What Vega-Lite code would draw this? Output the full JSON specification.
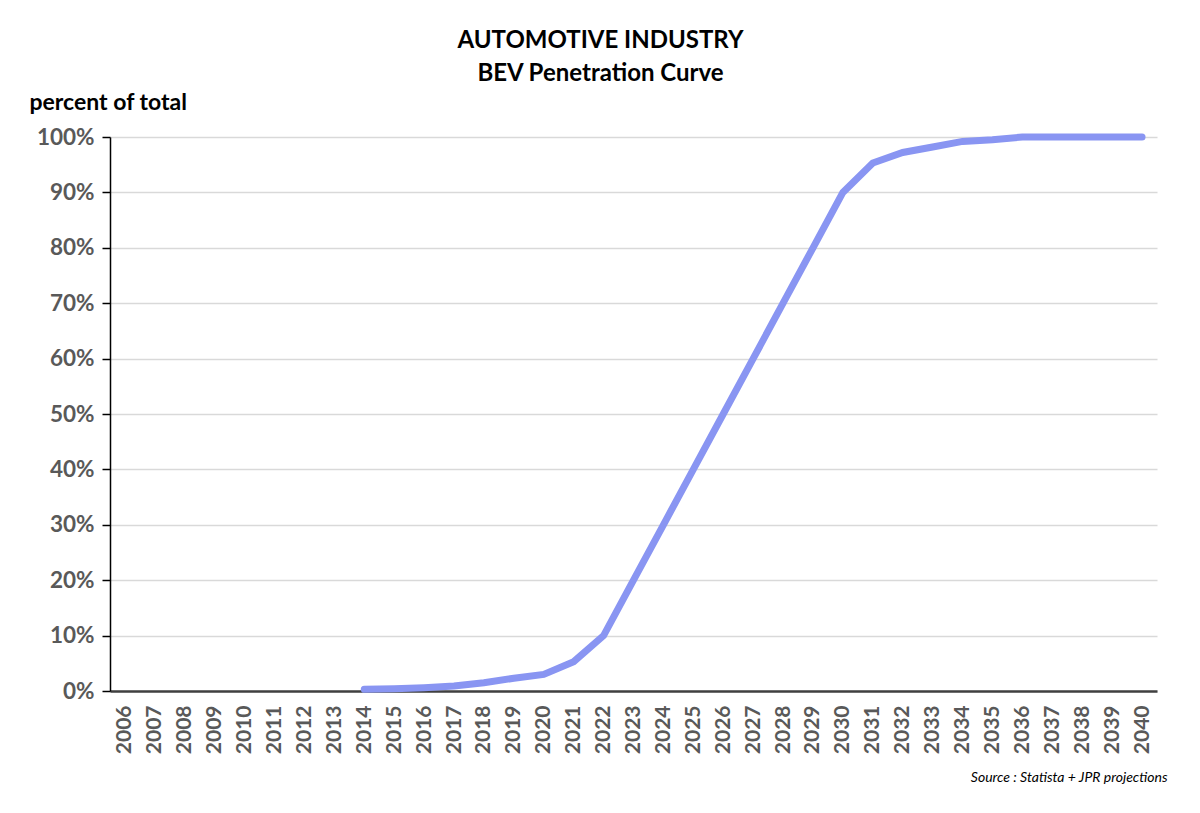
{
  "$schema": "https://vega.github.io/schema/vega-lite/v6.json",
  "width": 1047,
  "height": 554,
  "autosize": "none",
  "padding": {"left": 110, "top": 137, "right": 43, "bottom": 122},
  "background": "white",
  "title": {
    "text": ["AUTOMOTIVE INDUSTRY", "BEV Penetration Curve"],
    "font": "Lato",
    "fontSize": 24,
    "fontWeight": "bold",
    "color": "black",
    "lineHeight": 33,
    "anchor": "middle",
    "frame": "group",
    "dx": -33,
    "offset": 5
  },
  "data": {
    "values": [
      {"year": "2014", "pct": 0.3},
      {"year": "2015", "pct": 0.4},
      {"year": "2016", "pct": 0.6},
      {"year": "2017", "pct": 0.9},
      {"year": "2018", "pct": 1.5},
      {"year": "2019", "pct": 2.3},
      {"year": "2020", "pct": 3.0},
      {"year": "2021", "pct": 5.3},
      {"year": "2022", "pct": 10},
      {"year": "2023", "pct": 20},
      {"year": "2024", "pct": 30},
      {"year": "2025", "pct": 40},
      {"year": "2026", "pct": 50},
      {"year": "2027", "pct": 60},
      {"year": "2028", "pct": 70},
      {"year": "2029", "pct": 80},
      {"year": "2030", "pct": 90},
      {"year": "2031", "pct": 95.3},
      {"year": "2032", "pct": 97.2},
      {"year": "2033", "pct": 98.2},
      {"year": "2034", "pct": 99.2},
      {"year": "2035", "pct": 99.5},
      {"year": "2036", "pct": 100},
      {"year": "2037", "pct": 100},
      {"year": "2038", "pct": 100},
      {"year": "2039", "pct": 100},
      {"year": "2040", "pct": 100}
    ]
  },
  "mark": {"type": "line", "color": "#8995F2", "strokeWidth": 7, "strokeCap": "round", "strokeJoin": "miter"},
  "encoding": {
    "x": {
      "field": "year",
      "type": "ordinal",
      "scale": {
        "domain": ["2006","2007","2008","2009","2010","2011","2012","2013","2014","2015","2016","2017","2018","2019","2020","2021","2022","2023","2024","2025","2026","2027","2028","2029","2030","2031","2032","2033","2034","2035","2036","2037","2038","2039","2040"],
        "padding": 0.5
      },
      "axis": {
        "title": "Source : Statista + JPR projections",
        "titleFont": "Lato",
        "titleFontSize": 14,
        "titleFontStyle": "italic",
        "titleFontWeight": "normal",
        "titleColor": "black",
        "titleAnchor": "end",
        "titleAlign": "right",
        "titleBaseline": "middle",
        "titleX": 1057,
        "titleY": 86,
        "labelAngle": -90,
        "labelFont": "Lato",
        "labelFontSize": 21,
        "labelFontWeight": "bold",
        "labelColor": "#595959",
        "labelPadding": 14,
        "ticks": false,
        "domainColor": "#404040",
        "domainWidth": 2.5,
        "grid": false
      }
    },
    "y": {
      "field": "pct",
      "type": "quantitative",
      "scale": {"domain": [0, 100], "nice": false},
      "axis": {
        "title": "percent of total",
        "titleFont": "Lato",
        "titleFontSize": 23,
        "titleFontWeight": "bold",
        "titleColor": "black",
        "titleAngle": 0,
        "titleAlign": "left",
        "titleBaseline": "middle",
        "titleX": -81,
        "titleY": -35,
        "values": [0,10,20,30,40,50,60,70,80,90,100],
        "labelExpr": "datum.value + '%'",
        "labelFont": "Lato",
        "labelFontSize": 22.5,
        "labelFontWeight": "bold",
        "labelColor": "#595959",
        "labelPadding": 8,
        "tickSize": 8,
        "tickColor": "black",
        "tickWidth": 1.5,
        "domainColor": "black",
        "domainWidth": 1.5,
        "grid": true,
        "gridColor": "#d9d9d9",
        "gridWidth": 1.5
      }
    }
  },
  "config": {"view": {"stroke": null}}
}
